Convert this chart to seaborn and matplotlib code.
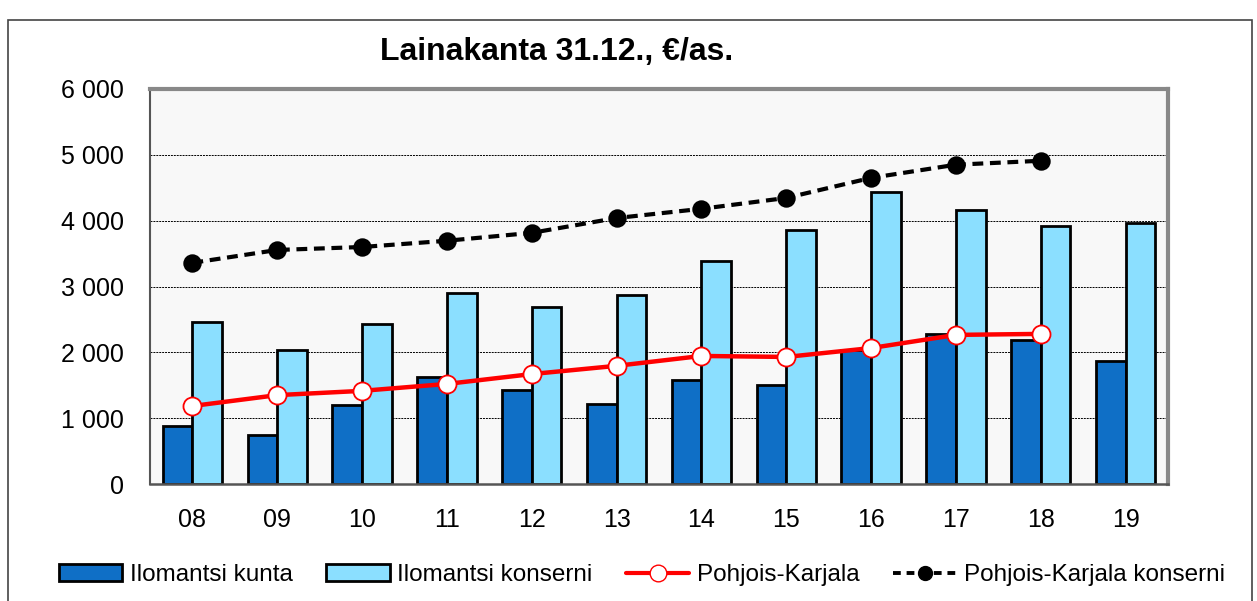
import numpy as np
import pandas as pd
import seaborn as sns
import matplotlib
matplotlib.use("Agg")
from matplotlib import pyplot as plt
from matplotlib.patches import Patch, Rectangle
from matplotlib.lines import Line2D
from matplotlib.ticker import FuncFormatter, MultipleLocator

# Data
years = ["08", "09", "10", "11", "12", "13", "14", "15", "16", "17", "18", "19"]
kunta = [880, 745, 1200, 1625, 1430, 1215, 1580, 1505, 2040, 2280, 2190, 1870]
konserni = [2460, 2035, 2430, 2900, 2690, 2870, 3390, 3860, 4440, 4165, 3920, 3965]
pk = [1185, 1350, 1415, 1520, 1670, 1795, 1945, 1930, 2065, 2265, 2280, np.nan]
pk_konserni = [3360, 3555, 3600, 3695, 3815, 4040, 4180, 4345, 4650, 4850, 4910, np.nan]

names = ["Ilomantsi kunta", "Ilomantsi konserni", "Pohjois-Karjala", "Pohjois-Karjala konserni"]
dark_blue = "#0F6FC6"
light_blue = "#8BDFFF"

sns.set_style("white")
plt.rcParams["font.family"] = ["Liberation Sans", "DejaVu Sans"]
plt.rcParams["text.color"] = "black"
plt.rcParams["xtick.color"] = "black"
plt.rcParams["ytick.color"] = "black"

bars = pd.DataFrame({
    "vuosi": years * 2,
    "arvo": kunta + konserni,
    "sarja": [names[0]] * len(years) + [names[1]] * len(years),
})
lines = pd.DataFrame({"vuosi": years, "pk": pk, "pkk": pk_konserni})

fig = plt.figure(figsize=(12.57, 6.01), dpi=100)
ax = fig.add_axes([150 / 1257, 1 - 484 / 601, 1018 / 1257, 395 / 601])
ax.set_facecolor("#F8F8F8")

sns.barplot(data=bars, x="vuosi", y="arvo", hue="sarja", order=years,
            palette=[dark_blue, light_blue], saturation=1, width=0.7, gap=0,
            edgecolor="black", linewidth=2, legend=False, ax=ax)

sns.pointplot(data=lines, x="vuosi", y="pkk", order=years, color="black",
              linestyles="--", markers="o", markersize=11, linewidth=3,
              errorbar=None, ax=ax)
ln = ax.lines[-1]
ln.set_dashes([2.6, 1.6])
ln.set_markerfacecolor("black")

sns.pointplot(data=lines, x="vuosi", y="pk", order=years, color="red",
              markers="o", markersize=13, linewidth=3.2,
              errorbar=None, ax=ax)
ln = ax.lines[-1]
ln.set_markerfacecolor("white")
ln.set_markeredgecolor("red")
ln.set_markeredgewidth(1.3)

ax.set_xlim(-0.5, len(years) - 0.5)
ax.set_ylim(0, 6000)
ax.yaxis.set_major_locator(MultipleLocator(1000))
ax.yaxis.set_minor_locator(MultipleLocator(200))
ax.yaxis.set_major_formatter(FuncFormatter(lambda v, p: f"{int(v):,}".replace(",", " ")))
ax.grid(axis="y", which="major", color="black", linestyle=(0, (2, 1)), linewidth=0.7)
ax.set_axisbelow(True)

# year labels centred, ticks at group borders
ax.set_xticks(range(len(years)))
ax.set_xticklabels(years)
ax.set_xticks(np.arange(-0.5, len(years)), minor=True)
ax.tick_params(axis="x", which="major", length=0, pad=17, labelsize=18)
ax.tick_params(axis="x", which="minor", length=11, width=1.2, color="#333333", direction="inout")
ax.tick_params(axis="y", which="major", length=13, width=1.2, color="#333333",
               direction="inout", labelsize=18, pad=12)
ax.tick_params(axis="y", which="minor", length=5, width=1.2, color="#333333", direction="in")
ax.set_xlabel("")
ax.set_ylabel("")

for s in ["top", "right"]:
    ax.spines[s].set_color("#888888")
    ax.spines[s].set_linewidth(3)
ax.spines["left"].set_color("#555555")
ax.spines["left"].set_linewidth(1.5)
ax.spines["bottom"].set_color("#555555")
ax.spines["bottom"].set_linewidth(1.8)

fig.text(557 / 1257, 1 - 52 / 601, "Lainakanta 31.12., €/as.", ha="center", va="center",
         fontsize=23, fontweight="bold")

# outer frame of the chart object
fig.patches.append(Rectangle((8 / 1257, -0.05), 1244 / 1257, 1.05 - 20 / 601,
                             transform=fig.transFigure, fill=False,
                             edgecolor="#444444", linewidth=1.2))

handles = [
    Patch(facecolor=dark_blue, edgecolor="black", linewidth=2),
    Patch(facecolor=light_blue, edgecolor="black", linewidth=2),
    Line2D([], [], color="red", linewidth=3, marker="o", markersize=12,
           markerfacecolor="white", markeredgecolor="red"),
    Line2D([], [], color="black", linewidth=2.8, dashes=[2, 1.5], marker="o", markersize=10),
]
fig.legend(handles, names, loc="center", bbox_to_anchor=(642 / 1257, 1 - 575 / 601), ncol=4,
           frameon=False, fontsize=17.5, handlelength=2.6, handletextpad=0.3,
           columnspacing=1.4, handleheight=0.7)

fig.savefig("out.png", dpi=100)
